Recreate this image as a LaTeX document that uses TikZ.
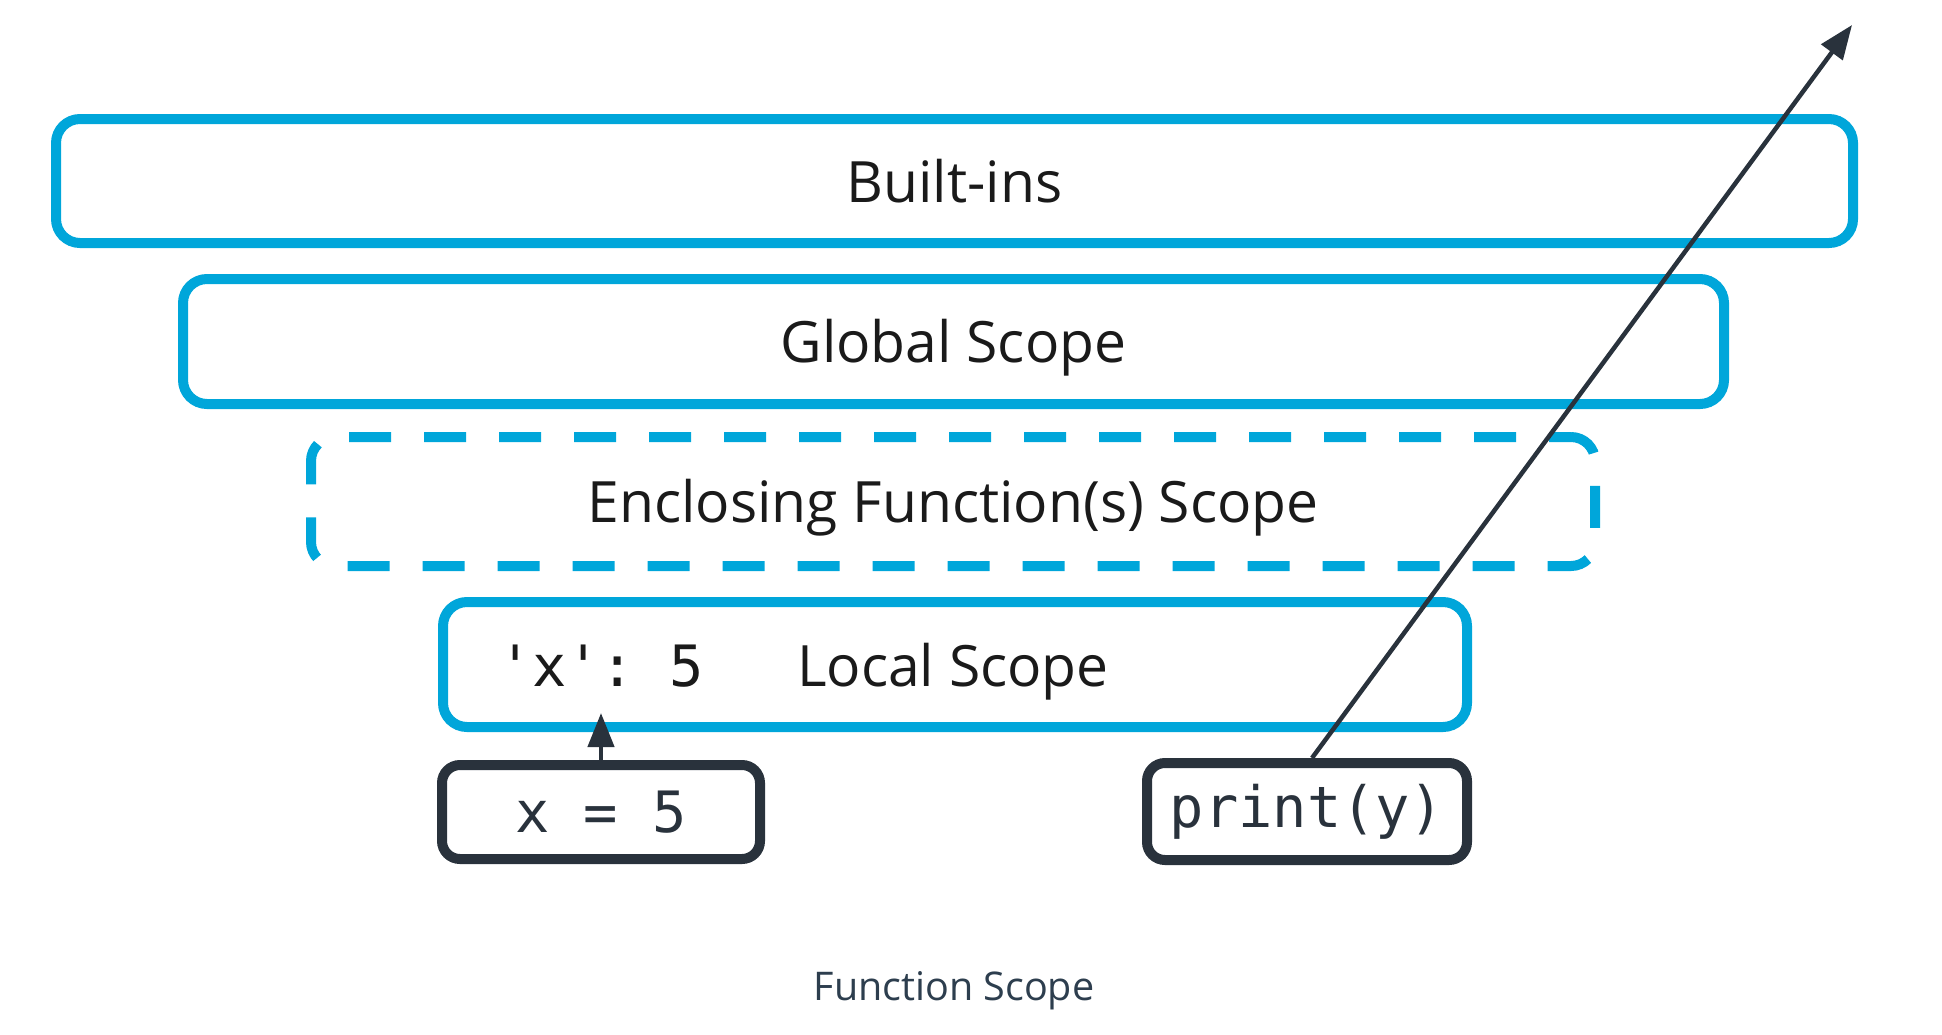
\documentclass[tikz,border=0pt]{standalone}
\usepackage{fontspec}
\setmainfont{Open Sans}
\setmonofont{DejaVu Sans Mono}
\usetikzlibrary{arrows.meta}
\definecolor{scopeblue}{HTML}{00A6DA}
\definecolor{darkline}{HTML}{29323C}
\definecolor{captiongray}{HTML}{2D3E4E}
\definecolor{labelblack}{HTML}{1A1A1A}
\tikzset{
  scopebox/.style={draw=scopeblue, line width=10pt, rounded corners=24pt, rectangle, inner sep=0pt,
    text=labelblack, font=\fontsize{57}{60}\selectfont, text height=42pt, text depth=0pt},
  dashedscope/.style={scopebox, dash pattern=on 42pt off 33pt, dash phase=20pt},
  codebox/.style={draw=darkline, line width=10pt, rounded corners=18pt, rectangle, inner sep=0pt,
    text=darkline, font=\ttfamily\fontsize{57}{60}\selectfont},
  plain/.style={inner sep=0pt, text=labelblack},
  arr/.style={draw=darkline, line width=4.5pt, -{Triangle[length=34pt,width=26pt]}},
}
\begin{document}
\begin{tikzpicture}[x=1pt,y=-1pt]
\useasboundingbox (0,0) rectangle (1942,1034);
\node[scopebox, minimum width=1797pt, minimum height=124pt] (builtins) at (954.5,181) {Built-ins};
\node[scopebox, minimum width=1541pt, minimum height=125pt] (global) at (953.5,341.5) {Global Scope};
\node[dashedscope, minimum width=1284pt, minimum height=129pt] (enclosing) at (953,501.5) {Enclosing Function(s) Scope};
\node[scopebox, minimum width=1024pt, minimum height=125pt] (local) at (955,664.5) {};
\node[plain, font=\fontsize{57}{60}\selectfont, anchor=base] (localtxt) at (953,686) {Local Scope};
\node[plain, font=\ttfamily\fontsize{57}{60}\selectfont, anchor=base] (xval) at (601,686) {'x':\ 5};
\node[codebox, minimum width=318pt, minimum height=94pt] (xfive) at (601,812) {x = 5};
\node[codebox, minimum width=320pt, minimum height=97pt] (printy) at (1307,811.5) {print(y)};
\coordinate (xtip) at (601,713);
\coordinate (outside) at (1852,25);
\draw[arr] (xfive.north) -- (xtip);
\draw[arr] ([xshift=5pt]printy.north) -- (outside);
\node[plain, text=captiongray, font=\fontsize{39.5}{44}\selectfont, anchor=base] (caption) at (954,1000) {Function Scope};
\end{tikzpicture}
\end{document}
